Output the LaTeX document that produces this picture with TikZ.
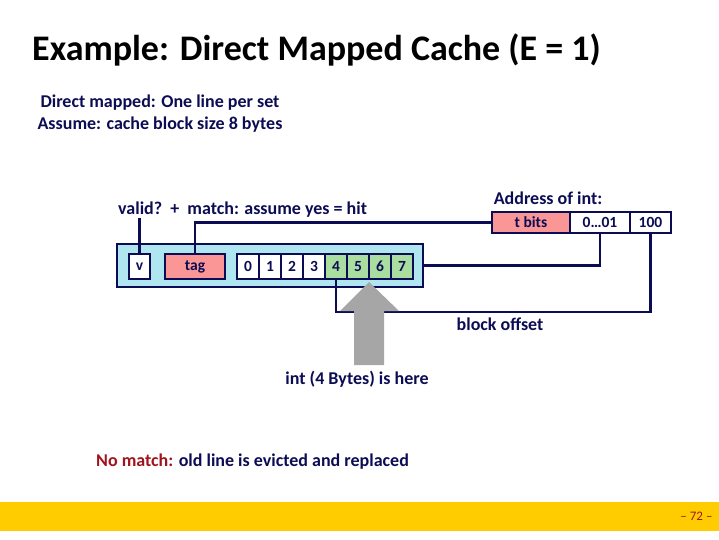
\documentclass[tikz,border=0pt]{standalone}
\usepackage{fontspec}
\setmainfont{Carlito}
\usetikzlibrary{positioning}
\definecolor{navy}{RGB}{12,12,84}
\definecolor{linefill}{RGB}{176,230,240}
\definecolor{tagred}{RGB}{250,150,150}
\definecolor{bytegreen}{RGB}{170,222,160}
\definecolor{baryellow}{RGB}{255,204,0}
\definecolor{darkred}{RGB}{160,20,30}

\begin{document}
\begin{tikzpicture}[
  x=1pt, y=-1pt,
  lbl/.style={font=\fontsize{18}{21}\selectfont\bfseries, text=navy, inner sep=0pt},
  cell/.style={draw=navy, line width=2pt, fill=white, minimum height=25pt,
               inner sep=0pt, font=\fontsize{15.5}{18}\selectfont\bfseries, text=navy},
  byte/.style={cell, minimum width=22pt},
  wire/.style={draw=navy, line width=2.5pt},
]
  \useasboundingbox (0,0) rectangle (719,539);

  % title and notes
  \node[anchor=west, inner sep=0pt, font=\fontsize{36}{40}\selectfont\bfseries] (title) at (32,50)
    {Example: Direct Mapped Cache (E = 1)};
  \node[lbl, align=center] (notes) at (160,114)
    {Direct mapped: One line per set\\[1pt] Assume: cache block size 8 bytes};

  % cache line
  \node[draw=navy, line width=2.5pt, fill=linefill, minimum width=306pt, minimum height=43pt,
        inner sep=0pt] (line) at (270,265.5) {};
  \node[cell, minimum width=21pt] (v) at (139.5,266.5) {v};
  \node[cell, minimum width=60pt, fill=tagred] (tag) at (195,266.5) {tag};
  \foreach \i in {0,...,7} {
    \pgfmathsetmacro{\cx}{248+22*\i}
    \ifnum\i<4
      \node[byte] (c\i) at (\cx,266.5) {\i};
    \else
      \node[byte, fill=bytegreen] (c\i) at (\cx,266.5) {\i};
    \fi
  }

  % address
  \node[lbl] (addr) at (548,198) {Address of int:};
  \node[cell, minimum width=78pt, minimum height=21pt, fill=tagred] (tbits) at (531,222.5) {t bits};
  \node[cell, minimum width=60pt, minimum height=21pt] (mid) at (600,222.5) {0\ldots01};
  \node[cell, minimum width=41pt, minimum height=21pt] (off) at (650.5,222.5) {100};

  % labels
  \node[lbl, anchor=west] (hit) at (118,210) {valid?\ \ +\ \ match: assume yes = hit};
  \node[lbl] (bo) at (500,324) {block offset};
  \node[lbl] (here) at (357,379) {int (4 Bytes) is here};
  \node[lbl, anchor=west] (nomatch) at (96,462) {\textcolor{darkred}{No match:} old line is evicted and replaced};

  % connectors
  \coordinate (obend) at (0,312);
  \draw[wire] (v.north) -- (v.north |- hit.south);
  \draw[wire] (tag.north) |- (tbits.west);
  \draw[wire] (mid.south) |- (line.east);
  \draw[wire] (c4.south) -- (c4.south |- obend) -| (off.south);

  % pointer arrow
  \fill[black!35] (369,282) -- (399,311) -- (384,311) -- (384,365)
    -- (354,365) -- (354,311) -- (340,311) -- cycle;

  % footer
  \fill[baryellow] (0,502) rectangle (719,531);
  \node[font=\fontsize{13}{15}\selectfont, text=darkred, anchor=east] (page) at (716,516) {-- 72 --};
\end{tikzpicture}
\end{document}
